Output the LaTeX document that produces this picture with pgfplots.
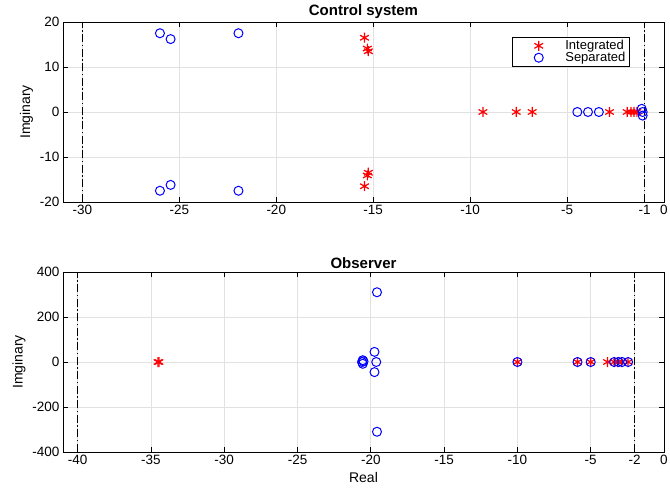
\documentclass[border=0pt]{standalone}
\usepackage{fontspec}
\setmainfont{Liberation Sans}
\usepackage{pgfplots}
\pgfplotsset{compat=1.18}
\definecolor{gridgray}{RGB}{225,225,225}
\pgfplotsset{
  mystyle/.style={
    scale only axis, width=601pt, height=180pt,
    /pgf/number format/assume math mode=true,
    tick align=inside, major tick length=5pt,
    xtick pos=both, ytick pos=both,
    grid=major, major grid style={gridgray, line width=0.8pt},
    axis line style={line width=0.8pt, black},
    tick style={line width=0.8pt, black},
    ticklabel style={font=\fontsize{13.5}{15}\selectfont},
    label style={font=\fontsize{14}{16}\selectfont},
    title style={font=\fontsize{15}{17}\selectfont\bfseries, yshift=-6pt},
    scaled ticks=false,
    /pgf/number format/.cd, fixed, 1000 sep={},
  },
  legimg/.style={legend image code/.code={
     \path (0pt,0pt) (48pt,0pt);
     \draw[##1] plot coordinates {(24pt,0pt)};}},
  integ/.style={only marks, mark=asterisk, mark size=5pt, red, line width=1.2pt, legimg},
  sep/.style={only marks, mark=o, mark size=4.5pt, blue, line width=1pt, legimg},
  dd/.style={black, line width=1.2pt, dash pattern=on 8pt off 2.5pt on 1.5pt off 2.5pt, forget plot},
}
\begin{document}
\begin{tikzpicture}
\path[use as bounding box] (0,0) rectangle (670pt,493pt);
\begin{axis}[mystyle,
  at={(63pt,291pt)}, anchor=south west,
  xmin=-31, xmax=0, ymin=-20, ymax=20,
  xtick={-30,-25,-20,-15,-10,-5,-1,0},
  ytick={-20,-10,0,10,20},
  ylabel={Imginary},
  title={Control system},
  legend style={at={(0.943,0.917)}, anchor=north east, font=\fontsize{13}{13}\selectfont,
    draw=black, line width=0.8pt, inner sep=1pt, row sep=-3pt, cells={anchor=west},
    inner xsep=2pt},
]
\addplot[integ] coordinates {
 (-15.45,16.5) (-15.3,14.1) (-15.25,13.5)
 (-15.45,-16.5) (-15.3,-14.1) (-15.25,-13.5)
 (-9.34,0) (-7.62,0) (-6.80,0) (-2.81,0)
 (-1.9,0) (-1.7,0) (-1.55,0) (-1.4,0)
};
\addlegendentry{Integrated}
\addplot[sep] coordinates {
 (-26.0,17.5) (-25.45,16.2) (-21.95,17.5)
 (-26.0,-17.5) (-25.45,-16.2) (-21.95,-17.5)
 (-4.47,0) (-3.92,0) (-3.36,0)
 (-1.15,0.7) (-1.1,0) (-1.1,-0.8)
};
\addlegendentry{Separated}
\addplot[dd] coordinates {(-30,-20) (-30,20)};
\addplot[dd] coordinates {(-1,-20) (-1,20)};
\end{axis}
\begin{axis}[mystyle,
  at={(63pt,41pt)}, anchor=south west,
  xmin=-41, xmax=0, ymin=-400, ymax=400,
  xtick={-40,-35,-30,-25,-20,-15,-10,-5,-2,0},
  ytick={-400,-200,0,200,400},
  ylabel={Imginary}, xlabel={Real},
  title={Observer},
]
\addplot[integ] coordinates {
 (-34.52,0) (-34.45,0)
 (-10,0) (-5.9,0) (-5.0,0) (-3.85,0) (-3.4,0) (-3.15,0) (-2.9,0) (-2.45,0)
};
\addplot[sep] coordinates {
 (-19.58,310) (-19.58,-310) (-19.75,45) (-19.75,-45) (-19.63,0)
 (-20.55,8) (-20.55,-8) (-20.6,0) (-20.5,3)
 (-10,0) (-5.9,0) (-5.0,0) (-3.4,0) (-3.1,0) (-2.85,0) (-2.45,0)
};
\addplot[dd] coordinates {(-40,-400) (-40,400)};
\addplot[dd] coordinates {(-2,-400) (-2,400)};
\end{axis}
\end{tikzpicture}
\end{document}
